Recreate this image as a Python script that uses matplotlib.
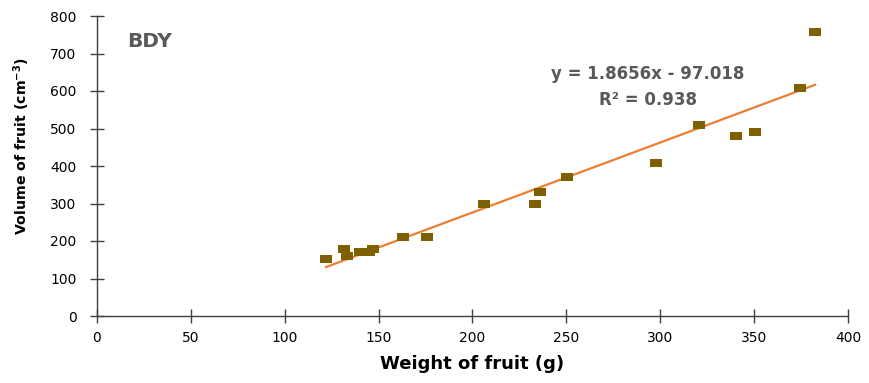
import matplotlib
matplotlib.use('Agg')
import numpy as np
import matplotlib.pyplot as plt

# fruit weight (g) and volume
weight = [122, 131.5, 133, 140, 145, 147, 163, 176, 206, 233.5, 236, 250.5, 297.5, 320.5, 340.5, 350.5, 374.5, 382.5]
volume = [151, 180, 160, 171, 172, 180, 210, 210, 300, 300, 330, 370, 409, 509, 479, 490, 609, 757]

slope = 1.8656
intercept = -97.018
r2 = 0.938

xticks = [0, 50, 100, 150, 200, 250, 300, 350, 400]
yticks = [0, 100, 200, 300, 400, 500, 600, 700, 800]

plt.rcParams['font.family'] = ['DejaVu Sans']
plt.rcParams['mathtext.default'] = 'regular'

fig = plt.figure(figsize=(8.7, 3.83), dpi=100)
ax = fig.add_axes([97/870, 67/383, 751/870, 300/383])

ax.spines['right'].set_color('none')
ax.spines['top'].set_color('none')
for s in ['left', 'bottom']:
    ax.spines[s].set_color('#404040')
    ax.spines[s].set_linewidth(1.0)

# slightly wide square marker, like the Excel one
box = [(-1.35, -1), (1.35, -1), (1.35, 1), (-1.35, 1), (-1.35, -1)]
ax.scatter(weight, volume, marker=box, s=64, color='#7F6000', zorder=3, linewidths=0)

xfit = np.array([min(weight), max(weight)])
ax.plot(xfit, slope * xfit + intercept, color='#ED7D31', lw=1.6, zorder=2)

ax.set_xlim(0, 400)
ax.set_ylim(0, 800)
ax.set_xticks(xticks)
ax.set_yticks(yticks)
ax.tick_params(direction='inout', length=9.5, width=1, color='#404040',
               labelsize=10, labelcolor='black', pad=6)
ax.tick_params(axis='y', pad=10)

ax.set_xlabel('Weight of fruit (g)', fontsize=13, fontweight='bold', labelpad=7)
ax.set_ylabel('Volume of fruit (cm$^{-3}$)', fontsize=10.2, fontweight='bold')
ax.yaxis.set_label_coords(-0.087, 0.565)

ax.text(28, 733, 'BDY', fontsize=14.5, fontweight='bold', color='#595959',
        ha='center', va='center')
ax.text(293.5, 645, 'y = %.4fx - %.3f' % (slope, -intercept), fontsize=12,
        fontweight='bold', color='#595959', ha='center', va='center')
ax.text(293.5, 576, 'R² = %.3f' % r2, fontsize=12,
        fontweight='bold', color='#595959', ha='center', va='center')

plt.savefig('out.png', dpi=100)
